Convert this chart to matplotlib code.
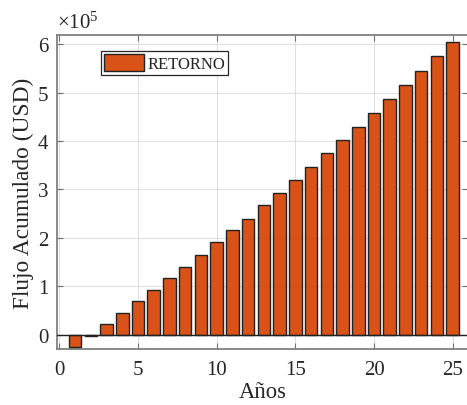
import matplotlib
matplotlib.use("Agg")
import matplotlib.pyplot as plt
from matplotlib.ticker import FuncFormatter

plt.rcParams['font.family'] = ['Liberation Serif', 'DejaVu Serif']
plt.rcParams['mathtext.fontset'] = 'custom'
plt.rcParams['mathtext.rm'] = 'Liberation Serif'
plt.rcParams['mathtext.it'] = 'Liberation Serif:italic'

years = list(range(1, 26))
cumulative_usd = [-24800, -2700, 21500, 44800, 69000, 92400, 116500, 140000, 164000,
                  191000, 215700, 240000, 268000, 292000, 319000, 346000, 375000,
                  402000, 430000, 458000, 486000, 515000, 545000, 575000, 605000]
series_label = "RETORNO"
x_ticks = [0, 5, 10, 15, 20, 25]
y_ticks = [0, 100000, 200000, 300000, 400000, 500000, 600000]

bar_color = '#D95319'
text_color = '#262626'

fig = plt.figure(figsize=(4.67, 4.06), dpi=100)
ax = fig.add_axes([0.1215, 0.1379, 0.8815, 0.7734])

ax.grid(True, color='#e0e0e0', linewidth=0.8, zorder=0)
ax.set_axisbelow(True)
ax.bar(years, cumulative_usd, width=0.8, color=bar_color, edgecolor='#222222',
       linewidth=1.0, label=series_label, zorder=3)
ax.axhline(0, color='#222222', linewidth=1.0, zorder=4)

ax.set_xlim(-0.165, 26.0)
ax.set_ylim(-29500, 619000)
ax.set_xticks(x_ticks)
ax.set_yticks(y_ticks)
ax.yaxis.set_major_formatter(FuncFormatter(lambda v, p: f"{v/1e5:g}"))

for s in ['left', 'bottom', 'top']:
    ax.spines[s].set_color('#808080')
    ax.spines[s].set_linewidth(1.3)
ax.spines['right'].set_visible(False)

ax.tick_params(axis='both', direction='in', length=4, width=0.8, color='#707070',
               labelsize=15, labelcolor=text_color, top=True, right=True)
ax.tick_params(axis='x', pad=8)
ax.tick_params(axis='y', pad=6)

ax.set_xlabel('Años', fontsize=16.3, color=text_color, labelpad=1)
ax.set_ylabel('Flujo Acumulado (USD)', fontsize=16.8, color=text_color, labelpad=3)

ax.text(0.0, 1.008, r'$\times10^{5}$', transform=ax.transAxes, fontsize=15,
        color=text_color, ha='left', va='bottom')

leg = ax.legend(loc='upper left', bbox_to_anchor=(101/467, 1 - 52/406),
                bbox_transform=fig.transFigure, fontsize=12, frameon=True,
                fancybox=False, handlelength=2.4, handleheight=1.15,
                handletextpad=0.2, borderpad=0.18, borderaxespad=0)
leg.get_frame().set_edgecolor('#262626')
leg.get_frame().set_linewidth(0.9)
leg.get_frame().set_alpha(1)
for t in leg.get_texts():
    t.set_color(text_color)

fig.savefig('out.png', dpi=100)
